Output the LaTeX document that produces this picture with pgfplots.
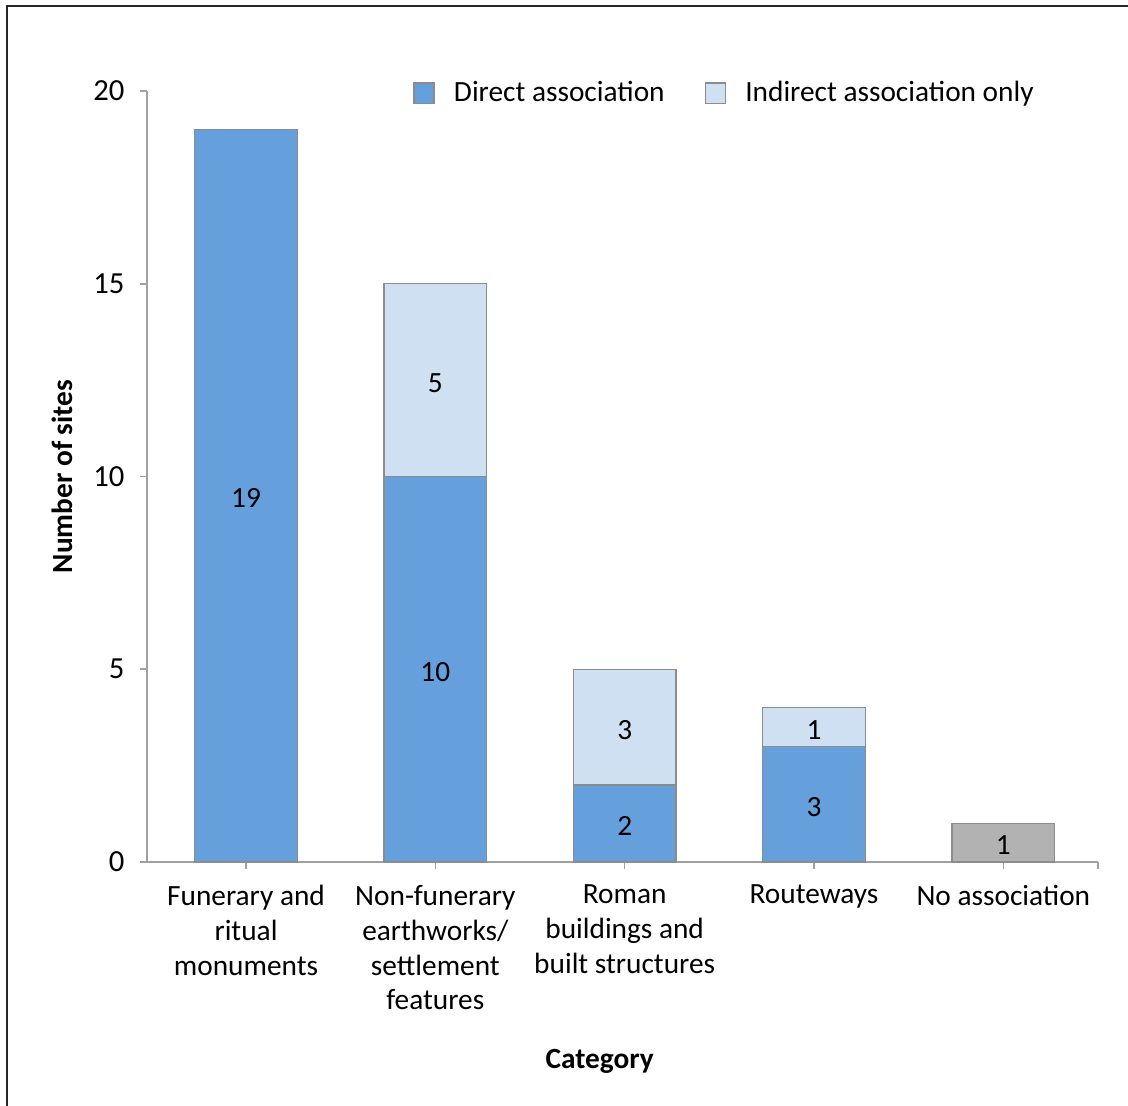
\documentclass[11pt,border=0pt]{standalone}
\usepackage{pgfplots}
\pgfplotsset{compat=1.18}
\usepackage{fontspec}
\setmainfont{Carlito}
\definecolor{direct}{RGB}{101,159,220}
\definecolor{indirect}{RGB}{207,224,242}
\definecolor{noassoc}{RGB}{178,178,178}
\definecolor{outl}{RGB}{140,140,140}
\definecolor{axgray}{RGB}{160,160,160}
\begin{document}
\begin{tikzpicture}
\begin{axis}[
  at={(0pt,0pt)}, anchor=south west,
  scale only axis,
  width=356.625pt, height=289.125pt,
  xmin=-0.523, xmax=4.5,
  ymin=0, ymax=20,
  axis lines*=left,
  axis line style={axgray, line width=0.6pt},
  tick style={axgray, line width=0.6pt},
  tick align=outside,
  major tick length=2.6pt,
  xtick={0,1,2,3,4,4.5},
  xticklabels={{Funerary and\\ritual\\monuments},{Non-funerary\\earthworks/\\settlement\\features},{Roman\\buildings and\\built structures},{Routeways},{No association},{}},
  xticklabel style={align=center, anchor=north, yshift=-2.2pt, font=\fontsize{11}{13.1}\selectfont},
  ytick={0,5,10,15,20},
  yticklabel style={font=\fontsize{11.5}{13.1}\selectfont, xshift=-2pt},
  /pgf/number format/assume math mode=true,
  xlabel={\textbf{Category}},
  xlabel style={at={(axis description cs:0.476,-0.258)}, anchor=center, font=\fontsize{11}{13.1}\selectfont},
  ylabel={\textbf{Number of sites}},
  ylabel style={at={(axis description cs:-0.0894,0.5)}, anchor=center, font=\fontsize{11}{13.1}\selectfont},
  ybar, bar width=38.6pt, bar shift=0pt,
  legend style={at={(axis description cs:0.609,0.997)}, anchor=center, draw=none, fill=none,
    legend columns=-1, font=\fontsize{11}{13.1}\selectfont,
    /tikz/every even column/.append style={column sep=13pt}},
  legend image code/.code={\draw[#1, draw=outl, line width=0.5pt] (0pt,-3.9pt) rectangle (7.5pt,3.9pt);
    \path[draw=none, fill=none] (0pt,0pt) -- (13pt,0pt);},
]
% total (direct + indirect), drawn first; direct drawn on top of it
\addplot[fill=indirect, draw=outl, line width=0.5pt, forget plot] coordinates {(1,15) (2,5) (3,4)};
\addplot[fill=direct, draw=outl, line width=0.5pt, forget plot] coordinates {(0,19) (1,10) (2,2) (3,3)};
\addplot[fill=noassoc, draw=outl, line width=0.5pt, forget plot] coordinates {(4,1)};
\addlegendimage{fill=direct}
\addlegendentry{Direct association}
\addlegendimage{fill=indirect}
\addlegendentry{Indirect association only}
% segment labels at the middle of each segment
\addplot[only marks, mark=none, forget plot,
  nodes near coords, point meta=explicit symbolic,
  every node near coord/.append style={anchor=center, yshift=-1pt, font=\fontsize{11}{13.1}\selectfont}]
  coordinates {(0,9.5)[19] (1,5)[10] (1,12.5)[5] (2,1)[2] (2,3.5)[3] (3,1.5)[3] (3,3.5)[1] (4,0.5)[1]};
\end{axis}
\draw[line width=0.75pt, black!85] (-52.5pt,-91.5pt) -- (-52.5pt,321pt) -- (367.875pt,321pt);
\pgfresetboundingbox
\path[use as bounding box] (-55.125pt,-91.5pt) rectangle (367.875pt,323.25pt);
\end{tikzpicture}
\end{document}
